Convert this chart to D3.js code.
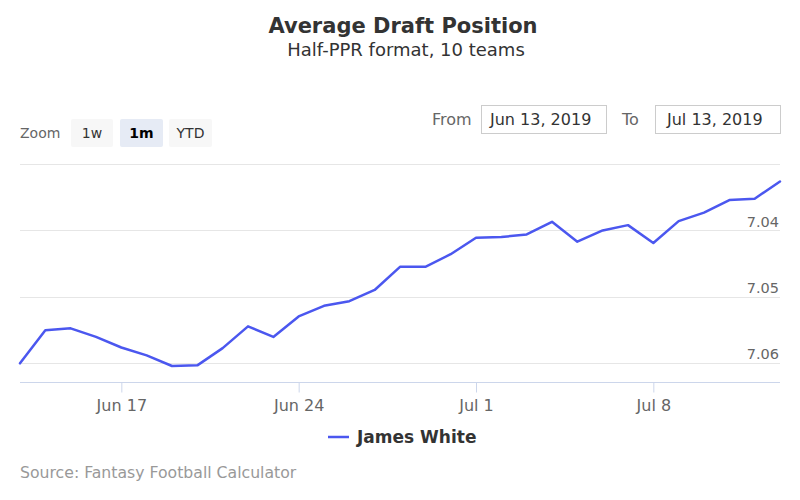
<!DOCTYPE html>
<html>
<head>
<meta charset="utf-8">
<script src="https://cdn.jsdelivr.net/npm/d3@7"></script>
<style>
  html, body { margin: 0; padding: 0; background: #fff; }
  svg { display: block; font-family: "DejaVu Sans", "Lucida Grande", sans-serif; }
</style>
</head>
<body>
<svg id="chart" width="800" height="500"></svg>
<script>
// ---- data ----
const dates = [
  "2019-06-13","2019-06-14","2019-06-15","2019-06-16","2019-06-17","2019-06-18","2019-06-19",
  "2019-06-20","2019-06-21","2019-06-22","2019-06-23","2019-06-24","2019-06-25","2019-06-26",
  "2019-06-27","2019-06-28","2019-06-29","2019-06-30","2019-07-01","2019-07-02","2019-07-03",
  "2019-07-04","2019-07-05","2019-07-06","2019-07-07","2019-07-08","2019-07-09","2019-07-10",
  "2019-07-11","2019-07-12","2019-07-13"
];
const adpValues = [
  7.0601, 7.0551, 7.0548, 7.0561, 7.0577, 7.0589, 7.0605,
  7.0604, 7.0578, 7.0545, 7.0561, 7.0530, 7.0514, 7.0507,
  7.0490, 7.0455, 7.0455, 7.0436, 7.0411, 7.0410, 7.0406,
  7.0387, 7.0417, 7.0400, 7.0392, 7.0419, 7.0386, 7.0373,
  7.0354, 7.0352, 7.0326
];
const seriesName = "James White";
const xTickDates = ["2019-06-17","2019-06-24","2019-07-01","2019-07-08"];
const yTickValues = [7.03, 7.04, 7.05, 7.06];
const yLabelValues = [7.04, 7.05, 7.06];
const zoomButtons = ["1w", "1m", "YTD"];
const selectedButton = "1m";
const fromLabel = "Jun 13, 2019";
const toLabel = "Jul 13, 2019";
const titleText = "Average Draft Position";
const subtitleText = "Half-PPR format, 10 teams";
const creditText = "Source: Fantasy Football Calculator";

// ---- setup ----
const parse = d3.utcParse("%Y-%m-%d");
const data = dates.map((d, i) => ({ date: parse(d), value: adpValues[i] }));
const svg = d3.select("#chart");

const plotLeft = 20, plotRight = 780, plotTop = 164.3, plotBottom = 383;
const lineColor = "#4b57ef";

const x = d3.scaleUtc()
  .domain([parse(dates[0]), parse(dates[dates.length - 1])])
  .range([plotLeft, plotRight]);
// reversed axis: smaller ADP at top
const y = d3.scaleLinear()
  .domain([7.03, 7.06])
  .range([plotTop, 362.7]);

// ---- titles ----
svg.append("text").attr("x", 403).attr("y", 33)
  .attr("text-anchor", "middle").attr("fill", "#333")
  .style("font-size", "21px").style("font-weight", "bold")
  .text(titleText);
svg.append("text").attr("x", 406).attr("y", 56)
  .attr("text-anchor", "middle").attr("fill", "#333")
  .style("font-size", "18px")
  .text(subtitleText);

// ---- range selector ----
svg.append("text").attr("x", 20).attr("y", 138)
  .attr("fill", "#666").style("font-size", "14px").text("Zoom");
const btnX = [71, 120, 169];
const btnW = [42, 43, 43];
zoomButtons.forEach((b, i) => {
  const sel = b === selectedButton;
  svg.append("rect").attr("x", btnX[i]).attr("y", 119)
    .attr("width", btnW[i]).attr("height", 28).attr("rx", 2)
    .attr("fill", sel ? "#e6ebf5" : "#f7f7f7");
  svg.append("text").attr("x", btnX[i] + btnW[i] / 2).attr("y", 138)
    .attr("text-anchor", "middle").attr("fill", sel ? "#000" : "#333")
    .style("font-size", "14px").style("font-weight", sel ? "bold" : "normal")
    .text(b);
});

svg.append("text").attr("x", 432).attr("y", 125)
  .attr("fill", "#666").style("font-size", "16px").text("From");
svg.append("rect").attr("x", 481.5).attr("y", 105.5).attr("width", 125).attr("height", 28)
  .attr("fill", "#fff").attr("stroke", "#ccc");
svg.append("text").attr("x", 490).attr("y", 125)
  .attr("fill", "#333").style("font-size", "16px").text(fromLabel);
svg.append("text").attr("x", 622).attr("y", 125)
  .attr("fill", "#666").style("font-size", "16px").text("To");
svg.append("rect").attr("x", 655.5).attr("y", 105.5).attr("width", 125).attr("height", 28)
  .attr("fill", "#fff").attr("stroke", "#ccc");
svg.append("text").attr("x", 667).attr("y", 125)
  .attr("fill", "#333").style("font-size", "16px").text(toLabel);

// ---- grid ----
const grid = svg.append("g");
yTickValues.forEach(v => {
  const yy = Math.round(y(v)) + 0.5;
  grid.append("line").attr("x1", plotLeft).attr("x2", plotRight)
    .attr("y1", yy).attr("y2", yy).attr("stroke", "#e6e6e6").attr("stroke-width", 1);
});

// y labels (right side, above the gridline)
const yAxis = d3.axisRight(y).tickValues(yLabelValues).tickSize(0).tickFormat(d3.format(".2f"));
const yg = svg.append("g").attr("transform", `translate(${plotRight},0)`).call(yAxis);
yg.select(".domain").remove();
yg.selectAll("text")
  .attr("x", -1).attr("dy", "-4px")
  .attr("text-anchor", "end").attr("fill", "#666")
  .style("font-size", "14.5px").style("font-family", "DejaVu Sans, sans-serif");

// ---- x axis ----
const xAxis = d3.axisBottom(x)
  .tickValues(xTickDates.map(parse))
  .tickSize(10)
  .tickPadding(6)
  .tickFormat(d => {
    const m = d3.utcFormat("%b")(d);
    return m + " " + d.getUTCDate();
  });
const xg = svg.append("g").attr("transform", `translate(0,${plotBottom - 0.5})`).call(xAxis);
xg.select(".domain").attr("stroke", "#ccd6eb").attr("d", `M${plotLeft},0H${plotRight}`);
xg.selectAll(".tick line").attr("stroke", "#ccd6eb");
xg.selectAll(".tick text").attr("fill", "#666").attr("y", 28.5).attr("dy", null)
  .style("font-size", "16px").style("font-family", "DejaVu Sans, sans-serif");

// ---- line ----
const line = d3.line().x(d => x(d.date)).y(d => y(d.value));
svg.append("path").datum(data)
  .attr("d", line).attr("fill", "none")
  .attr("stroke", lineColor).attr("stroke-width", 2.5)
  .attr("stroke-linejoin", "round").attr("stroke-linecap", "round");

// ---- legend ----
svg.append("line").attr("x1", 328).attr("x2", 349).attr("y1", 437).attr("y2", 437)
  .attr("stroke", lineColor).attr("stroke-width", 2.5);
svg.append("text").attr("x", 357).attr("y", 443)
  .attr("fill", "#333").style("font-size", "17px").style("font-weight", "bold")
  .text(seriesName);

// ---- credits ----
svg.append("text").attr("x", 20).attr("y", 478)
  .attr("fill", "#999").style("font-size", "15.7px")
  .text(creditText);
</script>
</body>
</html>
